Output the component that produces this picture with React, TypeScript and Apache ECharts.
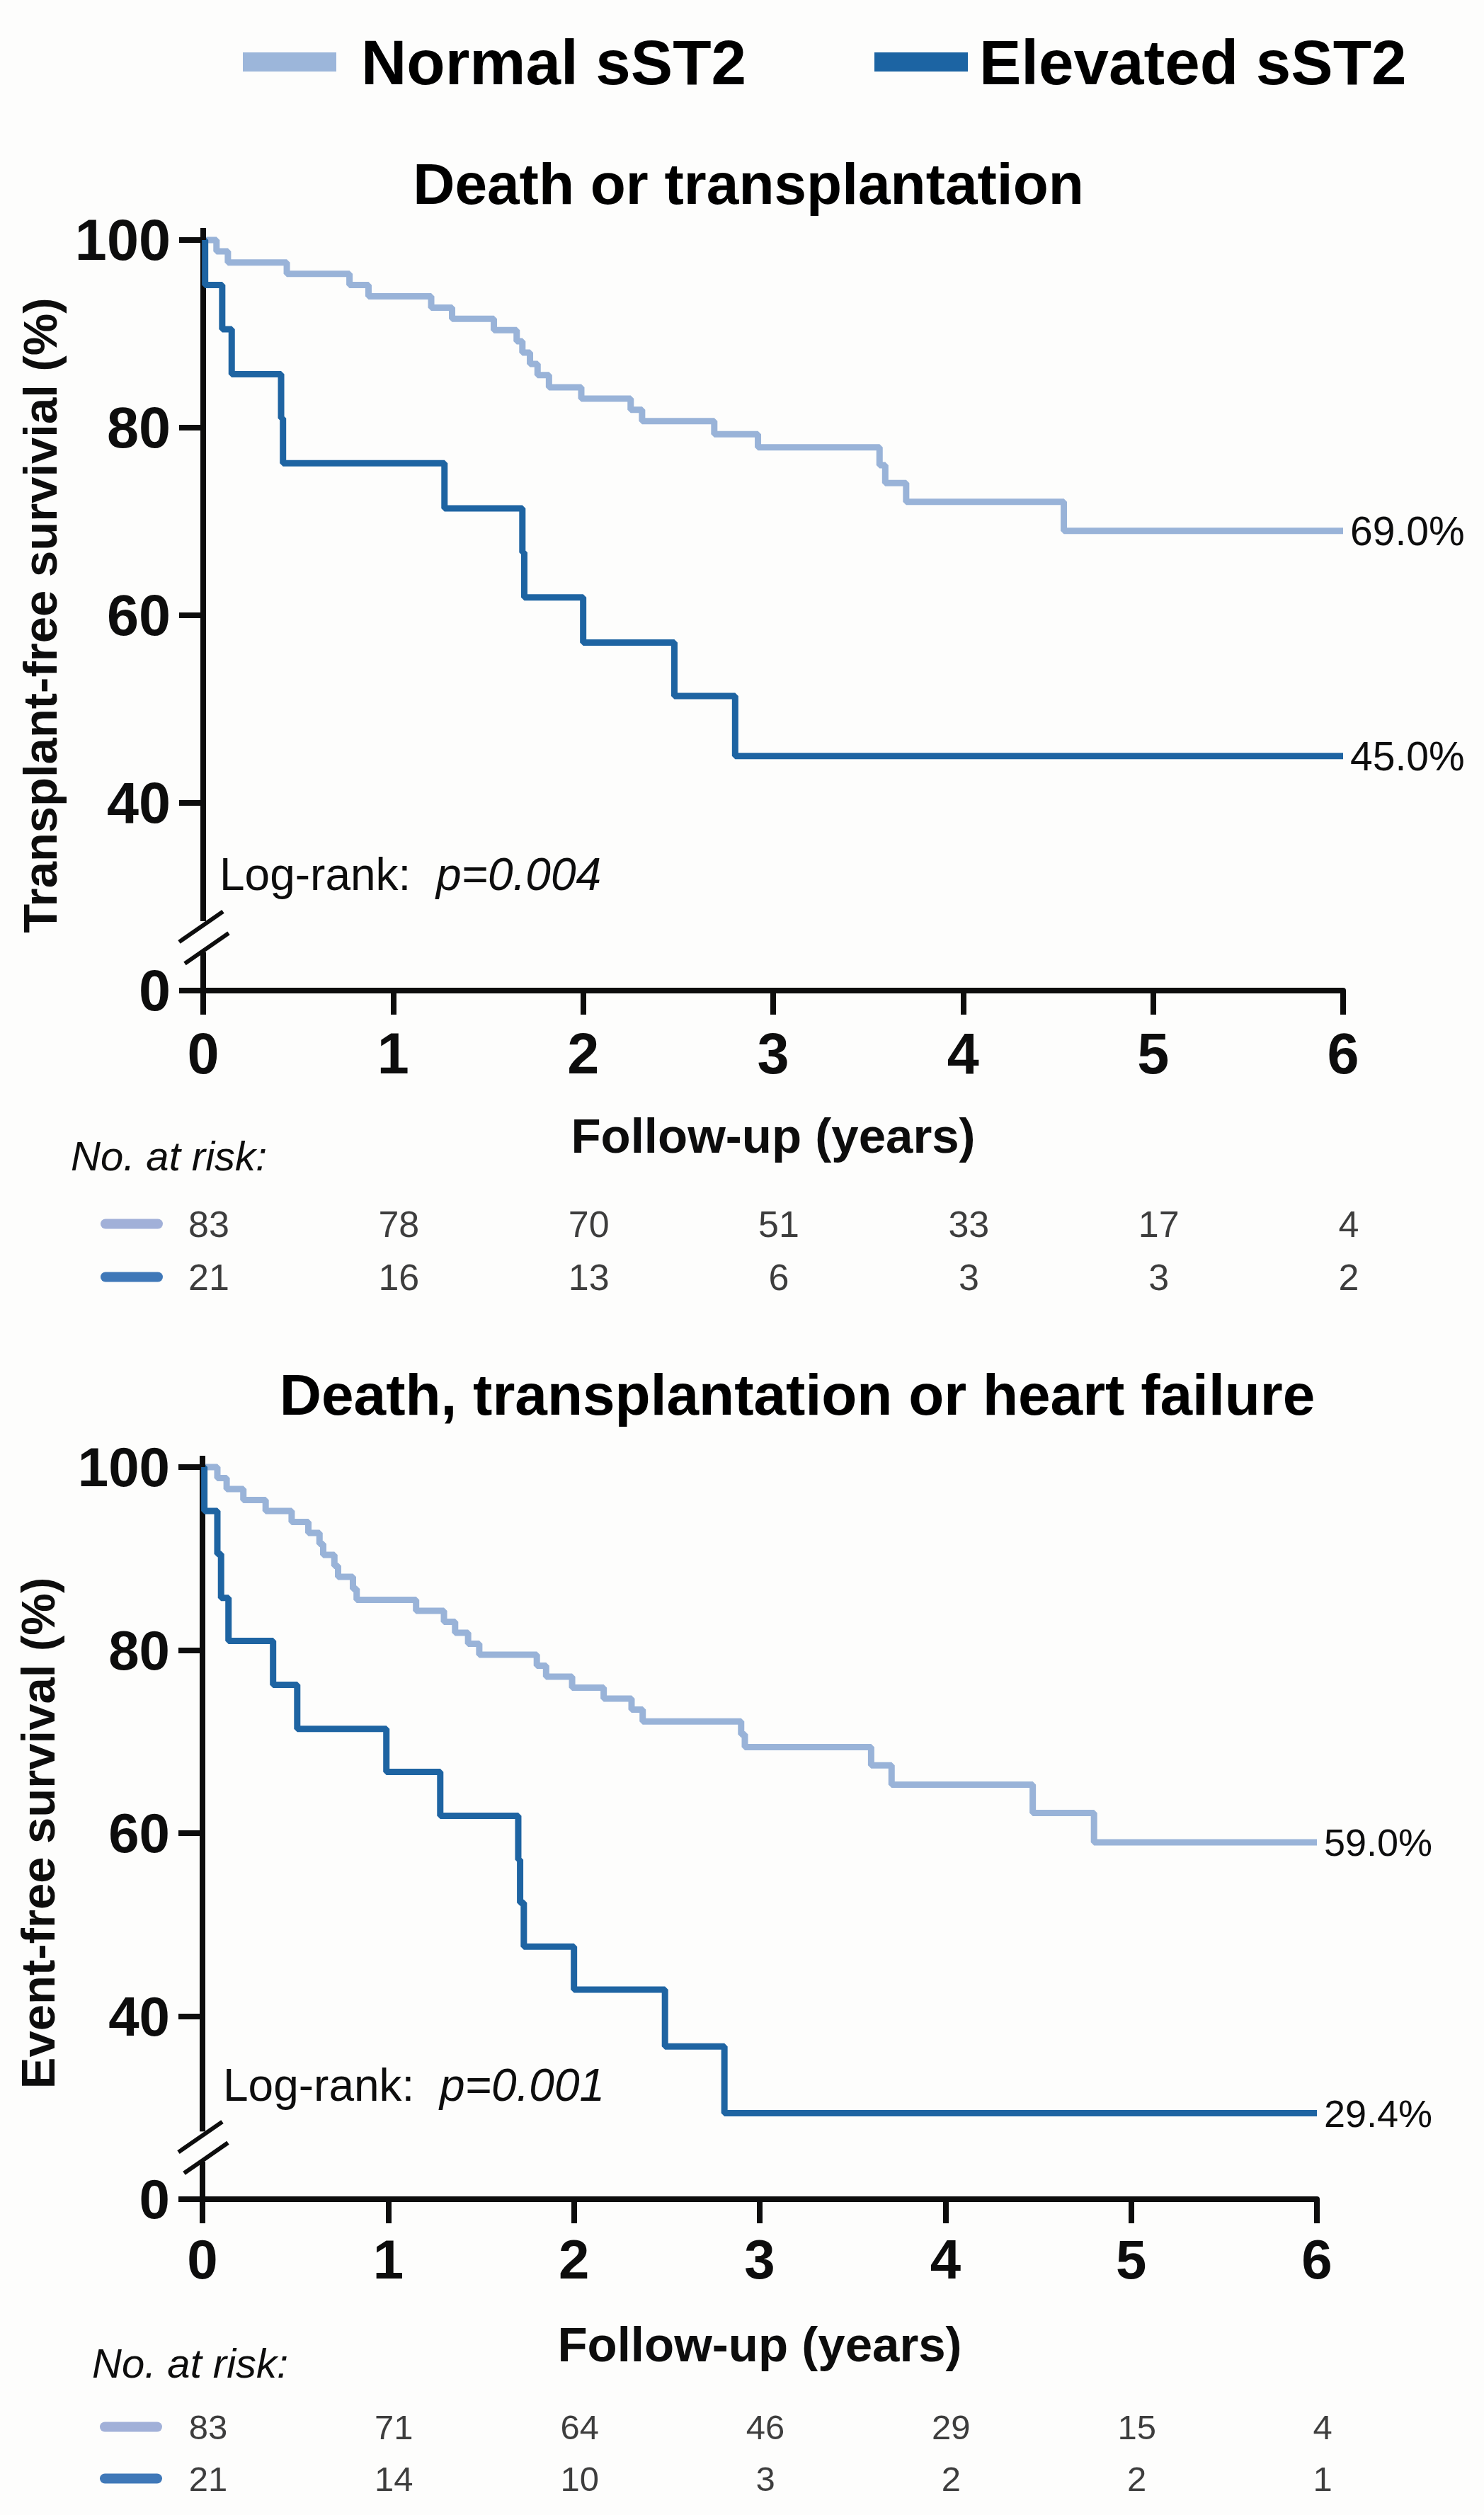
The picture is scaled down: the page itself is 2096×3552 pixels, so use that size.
import React, { useEffect, useRef } from 'react';
import * as echarts from 'echarts';

// ---------- shared labels ----------
const seriesNames = ['Normal sST2', 'Elevated sST2'];
const xTickValues = [0, 1, 2, 3, 4, 5, 6];
const yTickText: Record<number, string> = { 20: '0', 40: '40', 60: '60', 80: '80', 100: '100' };
const xAxisName = 'Follow-up (years)';
const riskHeader = 'No. at risk:';
const logRankText = 'Log-rank:';

// ---------- panel A: death or transplantation ----------
const titleA = 'Death or transplantation';
const yNameA = 'Transplant-free survivial (%)';
const timesNormalA = [0, 0.07, 0.13, 0.44, 0.77, 0.87, 1.2, 1.31, 1.53, 1.65, 1.68, 1.72, 1.76, 1.82, 1.99, 2.25, 2.31, 2.69, 2.92, 3.56, 3.59, 3.7, 4.53, 6.0];
const survNormalA = [100, 98.8, 97.6, 96.4, 95.2, 94.0, 92.8, 91.6, 90.4, 89.2, 88.0, 86.8, 85.6, 84.3, 83.1, 81.9, 80.7, 79.3, 77.9, 76.0, 74.1, 72.1, 69.0, 69.0];
const timesElevatedA = [0, 0.01, 0.1, 0.15, 0.41, 0.42, 1.27, 1.68, 1.69, 2.0, 2.48, 2.8, 6.0];
const survElevatedA = [100, 95.2, 90.5, 85.7, 81.0, 76.2, 71.4, 66.7, 61.9, 57.1, 51.4, 45.0, 45.0];
const endLabelsA = ['69.0%', '45.0%'];
const riskNormalA = [83, 78, 70, 51, 33, 17, 4];
const riskElevatedA = [21, 16, 13, 6, 3, 3, 2];
const pValueA = 'p=0.004';

// ---------- panel B: death, transplantation or heart failure ----------
const titleB = 'Death, transplantation or heart failure';
const yNameB = 'Event-free survival (%)';
const timesNormalB = [0, 0.08, 0.13, 0.22, 0.34, 0.48, 0.57, 0.63, 0.65, 0.71, 0.73, 0.81, 0.83, 1.15, 1.3, 1.36, 1.43, 1.49, 1.8, 1.85, 1.99, 2.16, 2.31, 2.37, 2.9, 2.92, 3.6, 3.71, 4.47, 4.8, 6.0];
const survNormalB = [100, 98.8, 97.6, 96.4, 95.2, 94.0, 92.8, 91.6, 90.4, 89.2, 88.0, 86.7, 85.5, 84.3, 83.1, 81.9, 80.7, 79.5, 78.3, 77.1, 75.9, 74.7, 73.5, 72.2, 70.8, 69.4, 67.4, 65.3, 62.2, 59.0, 59.0];
const timesElevatedB = [0, 0.01, 0.08, 0.1, 0.14, 0.38, 0.51, 0.99, 1.28, 1.7, 1.71, 1.73, 2.0, 2.49, 2.81, 6.0];
const survElevatedB = [100, 95.2, 90.5, 85.7, 81.0, 76.2, 71.4, 66.7, 61.9, 57.1, 52.4, 47.6, 42.9, 36.7, 29.4, 29.4];
const endLabelsB = ['59.0%', '29.4%'];
const riskNormalB = [83, 71, 64, 46, 29, 15, 4];
const riskElevatedB = [21, 14, 10, 3, 2, 2, 1];
const pValueB = 'p=0.001';

// ---------- styles ----------
const FONT = '"Liberation Sans", Arial, Helvetica, sans-serif';
const BG = '#fdfdfc';
const INK = '#0d0d0d';
const LIGHT = '#99b3d8';
const DARK = '#1e64a2';
const LEGEND_LIGHT = '#9cb6da';
const LEGEND_DARK = '#1c64a3';
const RISK_LIGHT = '#a1b0d8';
const RISK_DARK = '#3f78b8';
const CURVE_W = 9;
const Y_MIN = 20;
const Y_MAX = 100;

type Panel = {
  title: string; titleX: number; titleTop: number; yName: string;
  left: number; top: number; width: number; height: number;
  riskTop: number; riskHeight: number;
  tickFont: number; endFont: number; riskFont: number;
  xLabelMargin: number; yNameGap: number; xNameGap: number;
  yExtTop: number; noRiskX: number; noRiskY: number; logX: number; logY: number;
  tN: number[]; sN: number[]; tE: number[]; sE: number[];
  ends: string[]; rN: number[]; rE: number[]; p: string;
};

const panels: Panel[] = [
  {
    title: titleA, titleX: 1052, titleTop: 213, yName: yNameA,
    left: 287, top: 339, width: 1610, height: 1060,
    riskTop: 1691, riskHeight: 150,
    tickFont: 81, endFont: 57, riskFont: 52,
    xLabelMargin: 48, yNameGap: 197, xNameGap: 171,
    yExtTop: 322, noRiskX: 100, noRiskY: 1632, logX: 310, logY: 1235,
    tN: timesNormalA, sN: survNormalA, tE: timesElevatedA, sE: survElevatedA,
    ends: endLabelsA, rN: riskNormalA, rE: riskElevatedA, p: pValueA,
  },
  {
    title: titleB, titleX: 1121, titleTop: 1923, yName: yNameB,
    left: 286, top: 2072, width: 1574, height: 1034,
    riskTop: 3391, riskHeight: 146,
    tickFont: 78, endFont: 54, riskFont: 49,
    xLabelMargin: 46, yNameGap: 199, xNameGap: 171,
    yExtTop: 2056, noRiskX: 130, noRiskY: 3337, logX: 315, logY: 2945,
    tN: timesNormalB, sN: survNormalB, tE: timesElevatedB, sE: survElevatedB,
    ends: endLabelsB, rN: riskNormalB, rE: riskElevatedB, p: pValueB,
  },
];

const pairs = (t: number[], s: number[]) => t.map((x, i) => [x, s[i]]);

function buildOption() {
  const grid: any[] = [];
  const xAxis: any[] = [];
  const yAxis: any[] = [];
  const series: any[] = [];
  const graphic: any[] = [];
  const title: any[] = [];

  panels.forEach((p, i) => {
    const g = i * 2;
    const yPix = (v: number) => p.top + ((Y_MAX - v) / (Y_MAX - Y_MIN)) * p.height;

    title.push({
      text: p.title, left: p.titleX, top: p.titleTop, textAlign: 'center',
      textStyle: { fontSize: 82, fontWeight: 'bold', color: '#000', fontFamily: FONT },
    });

    grid.push({ left: p.left, top: p.top, width: p.width, height: p.height });
    grid.push({ left: p.left, top: p.riskTop, width: p.width, height: p.riskHeight });

    xAxis.push({
      gridIndex: g, type: 'value', min: 0, max: 6, interval: 1,
      axisLine: { onZero: false, lineStyle: { color: INK, width: 8 } },
      axisTick: { length: 34, lineStyle: { color: INK, width: 8 } },
      axisLabel: { fontSize: p.tickFont, fontWeight: 'bold', color: INK, fontFamily: FONT, margin: p.xLabelMargin },
      splitLine: { show: false },
      name: xAxisName, nameLocation: 'middle', nameGap: p.xNameGap,
      nameTextStyle: { fontSize: 69, fontWeight: 'bold', color: INK, fontFamily: FONT },
    });
    xAxis.push({ gridIndex: g + 1, type: 'value', min: 0, max: 6, interval: 1, show: false });

    yAxis.push({
      gridIndex: g, type: 'value', min: Y_MIN, max: Y_MAX, interval: 20,
      axisLine: { show: true, onZero: false, lineStyle: { color: INK, width: 8 } },
      axisTick: { show: true, length: 34, lineStyle: { color: INK, width: 8 } },
      axisLabel: {
        fontSize: p.tickFont, fontWeight: 'bold', color: INK, fontFamily: FONT, margin: 46,
        formatter: (v: number) => yTickText[v] ?? '',
      },
      splitLine: { show: false },
      name: p.yName, nameLocation: 'middle', nameRotate: 90, nameGap: p.yNameGap,
      nameTextStyle: { fontSize: 67, fontWeight: 'bold', color: INK, fontFamily: FONT },
    });
    yAxis.push({
      gridIndex: g + 1, type: 'category', data: seriesNames, inverse: true,
      axisLine: { show: false }, axisTick: { show: false }, splitLine: { show: false },
      axisLabel: {
        margin: 57,
        formatter: (v: string) => (v === seriesNames[0] ? '{n| }' : '{e| }'),
        rich: {
          n: { width: 88, height: 14, backgroundColor: RISK_LIGHT, borderRadius: 7 },
          e: { width: 88, height: 14, backgroundColor: RISK_DARK, borderRadius: 7 },
        },
      },
    });

    const endLabel = (txt: string) => ({
      show: true, formatter: txt, distance: 10, fontSize: p.endFont, color: INK, fontFamily: FONT,
    });

    series.push({
      name: seriesNames[0], type: 'line', step: 'end', xAxisIndex: g, yAxisIndex: g,
      data: pairs(p.tN, p.sN), symbol: 'none', color: LIGHT,
      lineStyle: { color: LIGHT, width: CURVE_W }, itemStyle: { color: LIGHT },
      endLabel: endLabel(p.ends[0]), clip: false, z: 3,
    });
    series.push({
      name: seriesNames[1], type: 'line', step: 'end', xAxisIndex: g, yAxisIndex: g,
      data: pairs(p.tE, p.sE), symbol: 'none', color: DARK,
      lineStyle: { color: DARK, width: CURVE_W }, itemStyle: { color: DARK },
      endLabel: endLabel(p.ends[1]), clip: false, z: 4,
    });
    series.push({
      name: 'risk-' + i, type: 'scatter', xAxisIndex: g + 1, yAxisIndex: g + 1, silent: true,
      symbolSize: 1, itemStyle: { color: 'rgba(0,0,0,0)' },
      data: [
        ...p.rN.map((n, k) => [xTickValues[k], seriesNames[0], n]),
        ...p.rE.map((n, k) => [xTickValues[k], seriesNames[1], n]),
      ],
      label: {
        show: true, position: 'inside', offset: [8, 0],
        formatter: (d: any) => String(d.value[2]),
        fontSize: p.riskFont, color: INK, fontFamily: FONT,
      },
    });

    // axis decoration: top extension and the axis break
    graphic.push({
      type: 'line', z: 100,
      shape: { x1: p.left, y1: p.yExtTop, x2: p.left, y2: p.top },
      style: { stroke: INK, lineWidth: 8 },
    });
    const gTop = yPix(27.4);
    const gBot = yPix(24.1);
    graphic.push({
      type: 'rect', z: 100,
      shape: { x: p.left - 8, y: gTop, width: 16, height: gBot - gTop },
      style: { fill: BG },
    });
    [[p.left - 3, yPix(26.8)], [p.left + 5, yPix(24.5)]].forEach(([cx, cy]) => {
      graphic.push({
        type: 'line', z: 101,
        shape: { x1: cx - 31, y1: cy + 21.5, x2: cx + 31, y2: cy - 21.5 },
        style: { stroke: INK, lineWidth: 6 },
      });
    });
    graphic.push({
      type: 'text', z: 100, x: p.noRiskX, y: p.noRiskY,
      style: {
        text: riskHeader, fontSize: 58, fontStyle: 'italic', fontFamily: FONT,
        fill: INK, verticalAlign: 'middle', align: 'left',
      },
    });
    graphic.push({
      type: 'text', z: 100, x: p.logX, y: p.logY,
      style: {
        text: `{n|${logRankText}}  {i|${p.p}}`,
        fontSize: 64, fontFamily: FONT, fill: INK, verticalAlign: 'middle', align: 'left',
        rich: {
          n: { fontSize: 64, fontFamily: FONT, fill: INK },
          i: { fontSize: 64, fontFamily: FONT, fontStyle: 'italic', fill: INK },
        },
      },
    });
  });

  const legendBase = {
    top: 38, icon: 'rect', itemWidth: 132, itemHeight: 27, selectedMode: false,
  };

  return {
    animation: false,
    backgroundColor: BG,
    textStyle: { fontFamily: FONT },
    title,
    legend: [
      {
        ...legendBase, left: 338,
        data: [{ name: seriesNames[0], itemStyle: { color: LEGEND_LIGHT } }],
        textStyle: { fontSize: 89, fontWeight: 'bold', color: '#000', fontFamily: FONT, padding: [0, 0, 0, 30] },
      },
      {
        ...legendBase, left: 1230,
        data: [{ name: seriesNames[1], itemStyle: { color: LEGEND_DARK } }],
        textStyle: { fontSize: 89, fontWeight: 'bold', color: '#000', fontFamily: FONT, padding: [0, 0, 0, 11] },
      },
    ],
    grid,
    xAxis,
    yAxis,
    series,
    graphic,
  };
}

export default function App() {
  const ref = useRef<HTMLDivElement>(null);
  useEffect(() => {
    if (!ref.current) return;
    const chart = echarts.init(ref.current, null, { renderer: 'svg', width: 2096, height: 3552 });
    chart.setOption(buildOption() as any);
    return () => chart.dispose();
  }, []);
  return (
    <div
      ref={ref}
      style={{ position: 'absolute', left: 0, top: 0, width: 2096, height: 3552, background: BG }}
    />
  );
}
